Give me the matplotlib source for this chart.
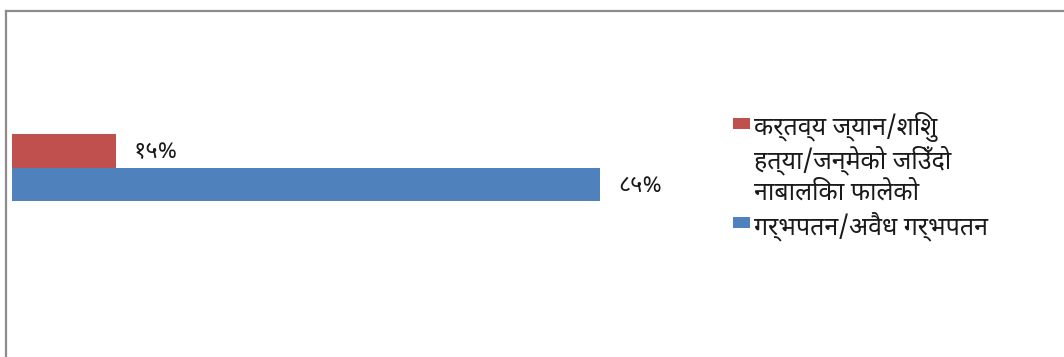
import matplotlib
matplotlib.use("Agg")
import matplotlib.pyplot as plt
from matplotlib.lines import Line2D
from matplotlib.patches import Rectangle

plt.rcParams['font.family'] = ['Noto Sans Devanagari', 'Mukta', 'DejaVu Sans']

series = ["कर्तव्य ज्यान/शिशु\nहत्या/जन्मेको जिउँदो\nनाबालिका फालेको",
          "गर्भपतन/अवैध गर्भपतन"]
values = [15, 85]
value_labels = ["१५%", "८५%"]
colors = ["#C0504D", "#4F81BD"]

W, H = 1064, 357
fig = plt.figure(figsize=(W / 100, H / 100), dpi=100)

# outer frame: only left and top edges fall inside the image
fig.add_artist(Line2D([5.5 / W, 5.5 / W], [0, 1 - 10.5 / H], color="#8c8c8c", lw=1.6))
fig.add_artist(Line2D([5.5 / W, 1], [1 - 10.5 / H, 1 - 10.5 / H], color="#8c8c8c", lw=1.6))

ax = fig.add_axes([12 / W, 1 - 235 / H, 692 / W, 135 / H])
ypos = [0.5, -0.5]
for y, v, c, lab in zip(ypos, values, colors, value_labels):
    ax.barh(y, v, height=1.0, color=c, edgecolor="none")
    ax.annotate(lab, (v, y), xytext=(13, -1), textcoords="offset points",
                ha="left", va="center", fontsize=17, color="#1a1a1a")
ax.set_xlim(0, 100)
ax.set_ylim(-2, 2)
ax.axis("off")

# legend drawn by hand so the swatch sits on the first text line
lx, ly = 733 / W, 1 - 118 / H
line_step = 33 / H
row = 0
for lab, c in zip(series, colors):
    top = ly - row * line_step
    fig.add_artist(Rectangle((lx, top - 11 / H), 17 / W, 11 / H,
                             transform=fig.transFigure, color=c, lw=0))
    for line in lab.split("\n"):
        fig.text(754 / W, ly - row * line_step - 9 / H, line, ha="left",
                 va="center", fontsize=18, color="#1a1a1a")
        row += 1

fig.savefig("out.png", dpi=100)
